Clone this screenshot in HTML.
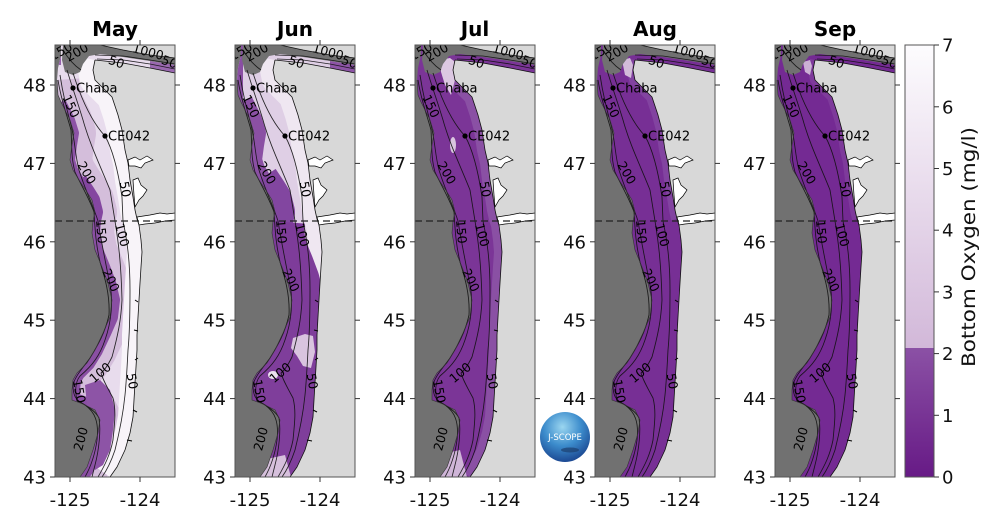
<!DOCTYPE html>
<html><head><meta charset="utf-8"><style>
html,body{margin:0;padding:0;background:#fff;}
svg{display:block;}
text{font-family:"DejaVu Sans","Liberation Sans",sans-serif;}
</style></head><body>
<svg width="1000" height="527" viewBox="0 0 1000 527" xmlns="http://www.w3.org/2000/svg" xmlns:xlink="http://www.w3.org/1999/xlink">
<defs>
<clipPath id="pc"><rect x="0" y="45" width="120" height="432"/></clipPath>
<clipPath id="bc"><path d="M0,45 L6,45 L6,55 L3,68 L2,80 L3,95 L6,102 L10,110 L15,120 L19,133 L17,145 L15,160 L18,170 L24,180 L32,192 L37,200 L40,212 L38,221 L37,233 L40,250 L47,267 L53,283 L57,300 L55,317 L48,333 L40,350 L32,363 L22,373 L18,380 L17,390 L17,400 L28,404 L40,410 L45,420 L43,433 L38,450 L32,467 L25,477 L55,477 L62,467 L70,450 L75,433 L78,417 L79,400 L80,383 L81,367 L82,350 L82,335 L83,317 L84,300 L85,283 L86,267 L87,252 L86,240 L84,225 L82,219 L80,210 L78,197 L75,180 L73,163 L70,150 L67,130 L63,115 L57,97 L48,88 L40,80 L38,70 L40,60 L68,63 L95,68 L120,73 L120,58 L95,55 L68,50 L45,45 Z"/></clipPath>
<path id="water" d="M0,45 L45,45 L68,50 L95,55 L120,58 L120,73 L95,68 L68,63 L40,60 L38,70 L40,80 L48,88 L57,97 L63,115 L67,130 L70,150 L73,163 L75,180 L78,197 L80,210 L82,219 L84,225 L86,240 L87,252 L86,267 L85,283 L84,300 L83,317 L82,335 L82,350 L81,367 L80,383 L79,400 L78,417 L75,433 L70,450 L62,467 L55,477 L0,477 Z"/>
<path id="coastLine" fill="none" stroke-linejoin="round" d="M40,60 L38,70 L40,80 L48,88 L57,97 L63,115 L67,130 L70,150 L73,163 L75,180 L78,197 L80,210 L82,219 L84,225 L86,240 L87,252 L86,267 L85,283 L84,300 L83,317 L82,335 L82,350 L81,367 L80,383 L79,400 L78,417 L75,433 L70,450 L62,467 L55,477"/>
<path id="coastN" fill="none" stroke-linejoin="round" d="M40,60 L38,70 L40,80 L48,88 L57,97 L63,115 L67,130 L70,150 L73,163 L75,180 L78,197 L80,210 L82,219"/>
<path id="deepLine" fill="none" stroke-linejoin="round" d="M2,80 L3,95 L6,102 L10,110 L15,120 L19,133 L17,145 L15,160 L18,170 L24,180 L32,192 L37,200 L40,212 L38,221 L37,233 L40,250 L47,267 L53,283 L57,300 L55,317 L48,333 L40,350 L32,363 L22,373 L18,380 L17,390 L17,400 L28,404 L40,410 L45,420 L43,433 L38,450 L32,467 L25,477"/>
<path id="deepN" fill="none" stroke-linejoin="round" d="M6,102 L10,110 L15,120 L19,133 L17,145 L15,160 L18,170 L24,180 L32,192 L37,200 L40,212 L38,221"/>
<path id="deepM" fill="none" stroke-linejoin="round" d="M24,180 L32,192 L37,200 L40,212 L38,221"/>
<path id="deepS" fill="none" stroke-linejoin="round" d="M38,221 L37,233 L40,250 L47,267 L53,283 L57,300 L55,317 L48,333 L40,350 L32,363 L22,373 L18,380 L17,390 L17,400 L28,404 L40,410 L45,420 L43,433 L38,450 L32,467 L25,477"/>
<path id="canyon" d="M8,45 L45,45 L68,50 L95,55 L120,58 L120,65 L95,61 L68,57 L45,54 L34,56 L28,64 L25,72 L18,75 L10,72 L7,60 Z"/>
<g id="est" fill="#fff" stroke="#000" stroke-width="0.7">
<path d="M73,160 L80,157 L85,160 L92,156 L98,160 L90,163 L86,168 L80,166 L74,166 Z"/>
<path d="M78,180 L83,178 L86,185 L92,190 L88,196 L84,200 L80,207 L79,195 Z"/>
<path d="M82,217 L95,215 L105,213 L112,214 L120,213 L120,220 L110,221 L100,223 L90,224 L84,225 Z"/>
</g>
<g id="coastOut" fill="none" stroke="#111" stroke-width="0.8">
<use xlink:href="#coastLine"/>
<path d="M45,45 L68,50 L95,55 L120,58"/>
<path d="M40,60 L68,63 L95,68 L120,73"/>
<path d="M25,477 L32,467 L38,450 L43,433 L45,420 L40,410 L28,404 L17,400 L17,390 L18,380 L22,373 L32,363 L40,350 L48,333 L55,317 L57,300 L53,283 L47,267 L40,250 L37,233 L38,221 L40,212 L37,200 L32,192 L24,180 L18,170 L15,160 L17,145 L19,133 L15,120 L10,110 L6,102 L3,95 L2,80" stroke="#333" stroke-width="0.6"/>
<path d="M80,300 l3,2 M79,330 l4,1 M80,360 l3,-2 M78,410 l4,2 M72,440 l5,1" stroke="#000" stroke-width="1"/>
</g>
<g id="cont" fill="none" stroke="#111" stroke-width="0.85" stroke-opacity="0.9">
<path d="M18,73 C25,95 35,120 50,136 C58,150 63,170 67,197 L68,221 C72,240 75,260 75,290 C75,320 74,340 73,350 C72,370 71,385 70,395 C68,415 65,430 60,450 C56,462 52,470 47,477"/>
<path d="M12,70 C18,90 22,100 28,120 C35,145 45,165 55,190 L60,221 C63,240 66,260 67,300 C66,320 63,335 57,357 C53,365 50,370 46,373 C48,380 52,387 58,398 C61,410 60,420 58,440 C55,455 50,465 43,477"/>
<path d="M5,75 C8,95 12,110 16,125 C20,140 20,155 24,170 C30,190 38,205 43,221 C46,240 50,260 55,285 C58,300 57,320 50,340 C45,355 38,365 25,376 C20,382 20,392 22,400 C30,405 40,410 44,418 C46,430 44,450 40,465 L37,477"/>
<path d="M3,80 C6,100 12,115 16,130 C17,145 16,158 20,172 C26,185 34,198 39,212 C40,225 40,240 45,262 C50,278 55,295 54,315 C50,333 43,345 35,358 C28,368 20,376 18,385 C18,395 20,400 30,405 C40,412 44,422 42,440 C40,455 35,468 30,477"/>
<path d="M40,55 L68,56 L95,60 L120,64"/>
<path d="M42,59 L68,60 L95,64 L120,69"/>
<path d="M8,50 C14,60 20,66 26,70"/>
</g>
<g id="clab" font-size="12.5" fill="#000" text-anchor="middle">
<text transform="translate(66,190) rotate(80)">50</text>
<text transform="translate(63,236) rotate(75)">100</text>
<text transform="translate(42,232) rotate(85)">150</text>
<text transform="translate(52,282) rotate(65)">200</text>
<text transform="translate(12,108) rotate(65)">150</text>
<text transform="translate(28,175) rotate(60)">200</text>
<text transform="translate(48,376) rotate(-40)">100</text>
<text transform="translate(73,382) rotate(80)">50</text>
<text transform="translate(20,392) rotate(80)">150</text>
<text transform="translate(30,440) rotate(-75)">200</text>
<text transform="translate(8,55) rotate(-30)">150</text>
<text transform="translate(24,56) rotate(-30)">200</text>
<text transform="translate(92,56) rotate(15)">1000</text>
<text transform="translate(60,66) rotate(20)">50</text>
<text transform="translate(113,66) rotate(20)">50</text>
</g>
<g id="tk" stroke="#333" stroke-width="1">
<line x1="-5" y1="85" x2="0" y2="85"/><line x1="-5" y1="163.4" x2="0" y2="163.4"/><line x1="-5" y1="241.8" x2="0" y2="241.8"/><line x1="-5" y1="320.2" x2="0" y2="320.2"/><line x1="-5" y1="398.6" x2="0" y2="398.6"/><line x1="-5" y1="477" x2="0" y2="477"/>
<line x1="120" y1="85" x2="125" y2="85"/><line x1="120" y1="163.4" x2="125" y2="163.4"/><line x1="120" y1="241.8" x2="125" y2="241.8"/><line x1="120" y1="320.2" x2="125" y2="320.2"/><line x1="120" y1="398.6" x2="125" y2="398.6"/>
<line x1="15" y1="40" x2="15" y2="45"/><line x1="85" y1="40" x2="85" y2="45"/>
<line x1="15" y1="477" x2="15" y2="482"/><line x1="85" y1="477" x2="85" y2="482"/>
</g>
<linearGradient id="cbHi" x1="0" y1="0" x2="0" y2="1"><stop offset="0" stop-color="#fdfcfe"/><stop offset="1" stop-color="#d2b8d9"/></linearGradient>
<linearGradient id="cbLo" x1="0" y1="0" x2="0" y2="1"><stop offset="0" stop-color="#8b51a5"/><stop offset="1" stop-color="#671a86"/></linearGradient>
<radialGradient id="logo" cx="0.45" cy="0.3" r="0.75"><stop offset="0" stop-color="#9bd6f0"/><stop offset="0.5" stop-color="#3c8ccc"/><stop offset="1" stop-color="#173f8a"/></radialGradient>
</defs>

<!-- ===== Panel May ===== -->
<g transform="translate(55,0)">
<g clip-path="url(#pc)">
<rect x="0" y="45" width="120" height="432" fill="#d8d8d8"/>
<use xlink:href="#water" fill="#717171"/>
<g clip-path="url(#bc)">
<rect x="0" y="45" width="120" height="432" fill="#e8dced"/>
<use xlink:href="#deepLine" stroke="#d4bedb" stroke-width="44"/>
<use xlink:href="#coastLine" stroke="#f8f4f9" stroke-width="30"/>
<use xlink:href="#deepN" stroke="#8c53a5" stroke-width="10"/>
<use xlink:href="#deepM" stroke="#8446a0" stroke-width="16"/>
<use xlink:href="#deepS" stroke="#8a4fa3" stroke-width="16"/>
<path d="M30,385 L45,380 L55,390 L60,410 L58,430 L55,450 L48,465 L40,470 L35,455 L38,435 L40,415 L32,405 Z" fill="#8d54a6"/>
<rect x="0" y="45" width="6" height="20" fill="#9561ac"/>
<path d="M95,61 L120,65 L120,73 L95,68 Z" fill="#9a68b0"/>
</g>
<use xlink:href="#canyon" fill="#717171"/>
<use xlink:href="#cont"/>
<use xlink:href="#clab"/>
<use xlink:href="#est"/>
<use xlink:href="#coastOut"/>
<line x1="0" y1="221" x2="120" y2="221" stroke="#222" stroke-width="1.2" stroke-dasharray="7,4"/>
</g>
<circle cx="18" cy="88" r="2.6" fill="#000"/><text x="21" y="92.5" font-size="13" fill="#000">Chaba</text>
<circle cx="50" cy="136" r="2.6" fill="#000"/><text x="53" y="140.5" font-size="13" fill="#000">CE042</text>
<rect x="0" y="45" width="120" height="432" fill="none" stroke="#555" stroke-width="1"/>
<use xlink:href="#tk"/>
<text x="60" y="36" font-size="20" font-weight="bold" text-anchor="middle" fill="#000">May</text>
<g font-size="18" fill="#111" text-anchor="end"><text x="-9" y="91.5">48</text><text x="-9" y="170">47</text><text x="-9" y="248.3">46</text><text x="-9" y="326.7">45</text><text x="-9" y="405">44</text><text x="-9" y="483.5">43</text></g>
<g font-size="18" fill="#111" text-anchor="middle"><text x="15" y="506">-125</text><text x="85" y="506">-124</text></g>
</g>

<!-- ===== Panel Jun ===== -->
<g transform="translate(235,0)">
<g clip-path="url(#pc)">
<rect x="0" y="45" width="120" height="432" fill="#d8d8d8"/>
<use xlink:href="#water" fill="#717171"/>
<g clip-path="url(#bc)">
<rect x="0" y="45" width="120" height="432" fill="#dfcfe5"/>
<use xlink:href="#coastLine" stroke="#efe7f1" stroke-width="26"/>
<use xlink:href="#deepN" stroke="#8b50a4" stroke-width="24"/>
<use xlink:href="#deepM" stroke="#8246a0" stroke-width="40"/>
<use xlink:href="#deepS" stroke="#7e3c9a" stroke-width="64"/>
<rect x="0" y="330" width="120" height="147" fill="#7f3e9b"/>
<path d="M58,338 L70,334 L78,336 L80,352 L76,368 L68,366 L62,356 L56,348 Z" fill="#d9c4df"/>
<ellipse cx="38" cy="375" rx="5" ry="4" fill="#ece2ef"/>
<path d="M27,460 L50,455 L56,477 L25,477 Z" fill="#d6c0dc"/>
<rect x="0" y="45" width="8" height="60" fill="#8a4fa3"/>
<path d="M95,61 L120,65 L120,73 L95,68 Z" fill="#8d54a6"/>
</g>
<use xlink:href="#canyon" fill="#717171"/>
<use xlink:href="#cont"/>
<use xlink:href="#clab"/>
<use xlink:href="#est"/>
<use xlink:href="#coastOut"/>
<line x1="0" y1="221" x2="120" y2="221" stroke="#222" stroke-width="1.2" stroke-dasharray="7,4"/>
</g>
<circle cx="18" cy="88" r="2.6" fill="#000"/><text x="21" y="92.5" font-size="13" fill="#000">Chaba</text>
<circle cx="50" cy="136" r="2.6" fill="#000"/><text x="53" y="140.5" font-size="13" fill="#000">CE042</text>
<rect x="0" y="45" width="120" height="432" fill="none" stroke="#555" stroke-width="1"/>
<use xlink:href="#tk"/>
<text x="60" y="36" font-size="20" font-weight="bold" text-anchor="middle" fill="#000">Jun</text>
<g font-size="18" fill="#111" text-anchor="end"><text x="-9" y="91.5">48</text><text x="-9" y="170">47</text><text x="-9" y="248.3">46</text><text x="-9" y="326.7">45</text><text x="-9" y="405">44</text><text x="-9" y="483.5">43</text></g>
<g font-size="18" fill="#111" text-anchor="middle"><text x="15" y="506">-125</text><text x="85" y="506">-124</text></g>
</g>

<!-- ===== Panel Jul ===== -->
<g transform="translate(415,0)">
<g clip-path="url(#pc)">
<rect x="0" y="45" width="120" height="432" fill="#d8d8d8"/>
<use xlink:href="#water" fill="#717171"/>
<g clip-path="url(#bc)">
<rect x="0" y="45" width="120" height="432" fill="#7b3597"/>
<use xlink:href="#coastLine" stroke="#8a50a4" stroke-width="16"/>
<path d="M25,60 L35,58 L40,62 L40,80 L36,95 L30,85 L26,72 Z" fill="#dcc8e2"/>
<ellipse cx="38" cy="145" rx="3" ry="8" fill="#d9c5df"/>
<path d="M22,455 L45,450 L52,477 L20,477 Z" fill="#cfb5d8"/>
<path d="M95,61 L120,65 L120,73 L95,68 Z" fill="#7b3597"/>
</g>
<use xlink:href="#canyon" fill="#717171"/>
<use xlink:href="#cont"/>
<use xlink:href="#clab"/>
<use xlink:href="#est"/>
<use xlink:href="#coastOut"/>
<line x1="0" y1="221" x2="120" y2="221" stroke="#222" stroke-width="1.2" stroke-dasharray="7,4"/>
</g>
<circle cx="18" cy="88" r="2.6" fill="#000"/><text x="21" y="92.5" font-size="13" fill="#000">Chaba</text>
<circle cx="50" cy="136" r="2.6" fill="#000"/><text x="53" y="140.5" font-size="13" fill="#000">CE042</text>
<rect x="0" y="45" width="120" height="432" fill="none" stroke="#555" stroke-width="1"/>
<use xlink:href="#tk"/>
<text x="60" y="36" font-size="20" font-weight="bold" text-anchor="middle" fill="#000">Jul</text>
<g font-size="18" fill="#111" text-anchor="end"><text x="-9" y="91.5">48</text><text x="-9" y="170">47</text><text x="-9" y="248.3">46</text><text x="-9" y="326.7">45</text><text x="-9" y="405">44</text><text x="-9" y="483.5">43</text></g>
<g font-size="18" fill="#111" text-anchor="middle"><text x="15" y="506">-125</text><text x="85" y="506">-124</text></g>
</g>

<!-- ===== Panel Aug ===== -->
<g transform="translate(595,0)">
<g clip-path="url(#pc)">
<rect x="0" y="45" width="120" height="432" fill="#d8d8d8"/>
<use xlink:href="#water" fill="#717171"/>
<g clip-path="url(#bc)">
<rect x="0" y="45" width="120" height="432" fill="#772f95"/>
<use xlink:href="#coastN" stroke="#8243a0" stroke-width="12"/>
<path d="M27,60 L35,58 L38,65 L36,78 L30,75 Z" fill="#d2bbd9"/>
</g>
<use xlink:href="#canyon" fill="#717171"/>
<use xlink:href="#cont"/>
<use xlink:href="#clab"/>
<use xlink:href="#est"/>
<use xlink:href="#coastOut"/>
<line x1="0" y1="221" x2="120" y2="221" stroke="#222" stroke-width="1.2" stroke-dasharray="7,4"/>
</g>
<circle cx="18" cy="88" r="2.6" fill="#000"/><text x="21" y="92.5" font-size="13" fill="#000">Chaba</text>
<circle cx="50" cy="136" r="2.6" fill="#000"/><text x="53" y="140.5" font-size="13" fill="#000">CE042</text>
<rect x="0" y="45" width="120" height="432" fill="none" stroke="#555" stroke-width="1"/>
<use xlink:href="#tk"/>
<text x="60" y="36" font-size="20" font-weight="bold" text-anchor="middle" fill="#000">Aug</text>
<g font-size="18" fill="#111" text-anchor="end"><text x="-9" y="91.5">48</text><text x="-9" y="170">47</text><text x="-9" y="248.3">46</text><text x="-9" y="326.7">45</text><text x="-9" y="405">44</text><text x="-9" y="483.5">43</text></g>
<g font-size="18" fill="#111" text-anchor="middle"><text x="15" y="506">-125</text><text x="85" y="506">-124</text></g>
</g>

<!-- ===== Panel Sep ===== -->
<g transform="translate(775,0)">
<g clip-path="url(#pc)">
<rect x="0" y="45" width="120" height="432" fill="#d8d8d8"/>
<use xlink:href="#water" fill="#717171"/>
<g clip-path="url(#bc)">
<rect x="0" y="45" width="120" height="432" fill="#742a93"/>
<use xlink:href="#coastN" stroke="#7e3a9b" stroke-width="10"/>
<path d="M28,62 L35,60 L37,66 L35,75 L30,72 Z" fill="#cbb1d4"/>
</g>
<use xlink:href="#canyon" fill="#717171"/>
<use xlink:href="#cont"/>
<use xlink:href="#clab"/>
<use xlink:href="#est"/>
<use xlink:href="#coastOut"/>
<line x1="0" y1="221" x2="120" y2="221" stroke="#222" stroke-width="1.2" stroke-dasharray="7,4"/>
</g>
<circle cx="18" cy="88" r="2.6" fill="#000"/><text x="21" y="92.5" font-size="13" fill="#000">Chaba</text>
<circle cx="50" cy="136" r="2.6" fill="#000"/><text x="53" y="140.5" font-size="13" fill="#000">CE042</text>
<rect x="0" y="45" width="120" height="432" fill="none" stroke="#555" stroke-width="1"/>
<use xlink:href="#tk"/>
<text x="60" y="36" font-size="20" font-weight="bold" text-anchor="middle" fill="#000">Sep</text>
<g font-size="18" fill="#111" text-anchor="end"><text x="-9" y="91.5">48</text><text x="-9" y="170">47</text><text x="-9" y="248.3">46</text><text x="-9" y="326.7">45</text><text x="-9" y="405">44</text><text x="-9" y="483.5">43</text></g>
<g font-size="18" fill="#111" text-anchor="middle"><text x="15" y="506">-125</text><text x="85" y="506">-124</text></g>
</g>

<!-- J-SCOPE logo -->
<circle cx="565" cy="437" r="25" fill="url(#logo)"/>
<ellipse cx="570" cy="450" rx="9" ry="2.5" fill="#1c3f6e" opacity="0.7"/>
<text x="565" y="440" font-size="8.5" fill="#fff" text-anchor="middle">J-SCOPE</text>

<!-- Colorbar -->
<rect x="905" y="45" width="29" height="303.5" fill="url(#cbHi)"/>
<rect x="905" y="348" width="29" height="129" fill="url(#cbLo)"/>
<rect x="905" y="45" width="29" height="432" fill="none" stroke="#555" stroke-width="1"/>
<g stroke="#333" stroke-width="1">
<line x1="934" y1="45" x2="939" y2="45"/><line x1="934" y1="106.8" x2="939" y2="106.8"/><line x1="934" y1="168.5" x2="939" y2="168.5"/><line x1="934" y1="230.2" x2="939" y2="230.2"/><line x1="934" y1="291.9" x2="939" y2="291.9"/><line x1="934" y1="353.6" x2="939" y2="353.6"/><line x1="934" y1="415.3" x2="939" y2="415.3"/><line x1="934" y1="477" x2="939" y2="477"/>
</g>
<g font-size="18" fill="#111">
<text x="942" y="51.5">7</text><text x="942" y="113.3">6</text><text x="942" y="175">5</text><text x="942" y="236.7">4</text><text x="942" y="298.4">3</text><text x="942" y="360.1">2</text><text x="942" y="421.8">1</text><text x="942" y="483.5">0</text>
</g>
<text transform="translate(975,247) rotate(-90)" font-size="19" fill="#111" text-anchor="middle" textLength="240" lengthAdjust="spacingAndGlyphs">Bottom Oxygen (mg/l)</text>
</svg>
</body></html>
